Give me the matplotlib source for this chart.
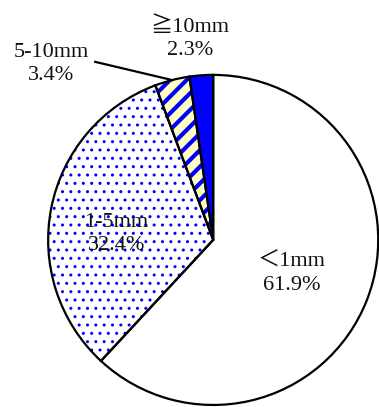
import numpy as np
import matplotlib
matplotlib.use("Agg")
import matplotlib.pyplot as plt

labels = ["＜1mm", "1-5mm", "5-10mm", "≧10mm"]
shares = [61.9, 32.4, 3.4, 2.3]
face_colors = ["white", "white", "#FFFFC0", "#0000FF"]
hatches = [None, "..", "//", None]

FONT = ["Liberation Serif", "DejaVu Serif", "Noto Sans CJK JP", "DejaVu Sans"]
plt.rcParams["font.family"] = FONT

fig = plt.figure(figsize=(3.79, 4.07), dpi=100)
ax = fig.add_axes([0.127, 0.005, 0.871, 0.811])

# fill + hatch layer (hatch takes the edge colour, so draw edges separately)
wedges, _ = ax.pie(shares, colors=face_colors, startangle=90, counterclock=False,
                   wedgeprops=dict(edgecolor="#0000FF", linewidth=0))
for w, h in zip(wedges, hatches):
    if h:
        w.set_hatch(h)
        if hasattr(w, "set_hatch_linewidth"):
            w.set_hatch_linewidth(3.0 if h == "//" else 1.0)

# black outline layer
ax.pie(shares, startangle=90, counterclock=False,
       wedgeprops=dict(fill=False, edgecolor="black", linewidth=1.6))

ax.set_xlim(-1, 1)
ax.set_ylim(-1, 1)
ax.set_aspect("equal")
ax.axis("off")

pct = [f"{s:.1f}%" for s in shares]
label_pos = [(0.473, -0.203), (-0.588, 0.036), (-0.982, 1.064), (-0.14, 1.218)]
for name, p, (x, y) in zip(labels, pct, label_pos):
    ax.text(x, y, f"{name}\n{p}", ha="center", va="center", fontsize=16,
            linespacing=1.3, clip_on=False, color="#111111")

# leader line for the 5-10mm slice
start = shares[0] + shares[1]
mid = start + shares[2] / 2
ang = np.deg2rad(90 - mid / 100 * 360)
ax.plot([-0.715, np.cos(ang)], [1.079, np.sin(ang)], color="black", lw=1.6,
        clip_on=False)

fig.savefig("out.png", dpi=100)
